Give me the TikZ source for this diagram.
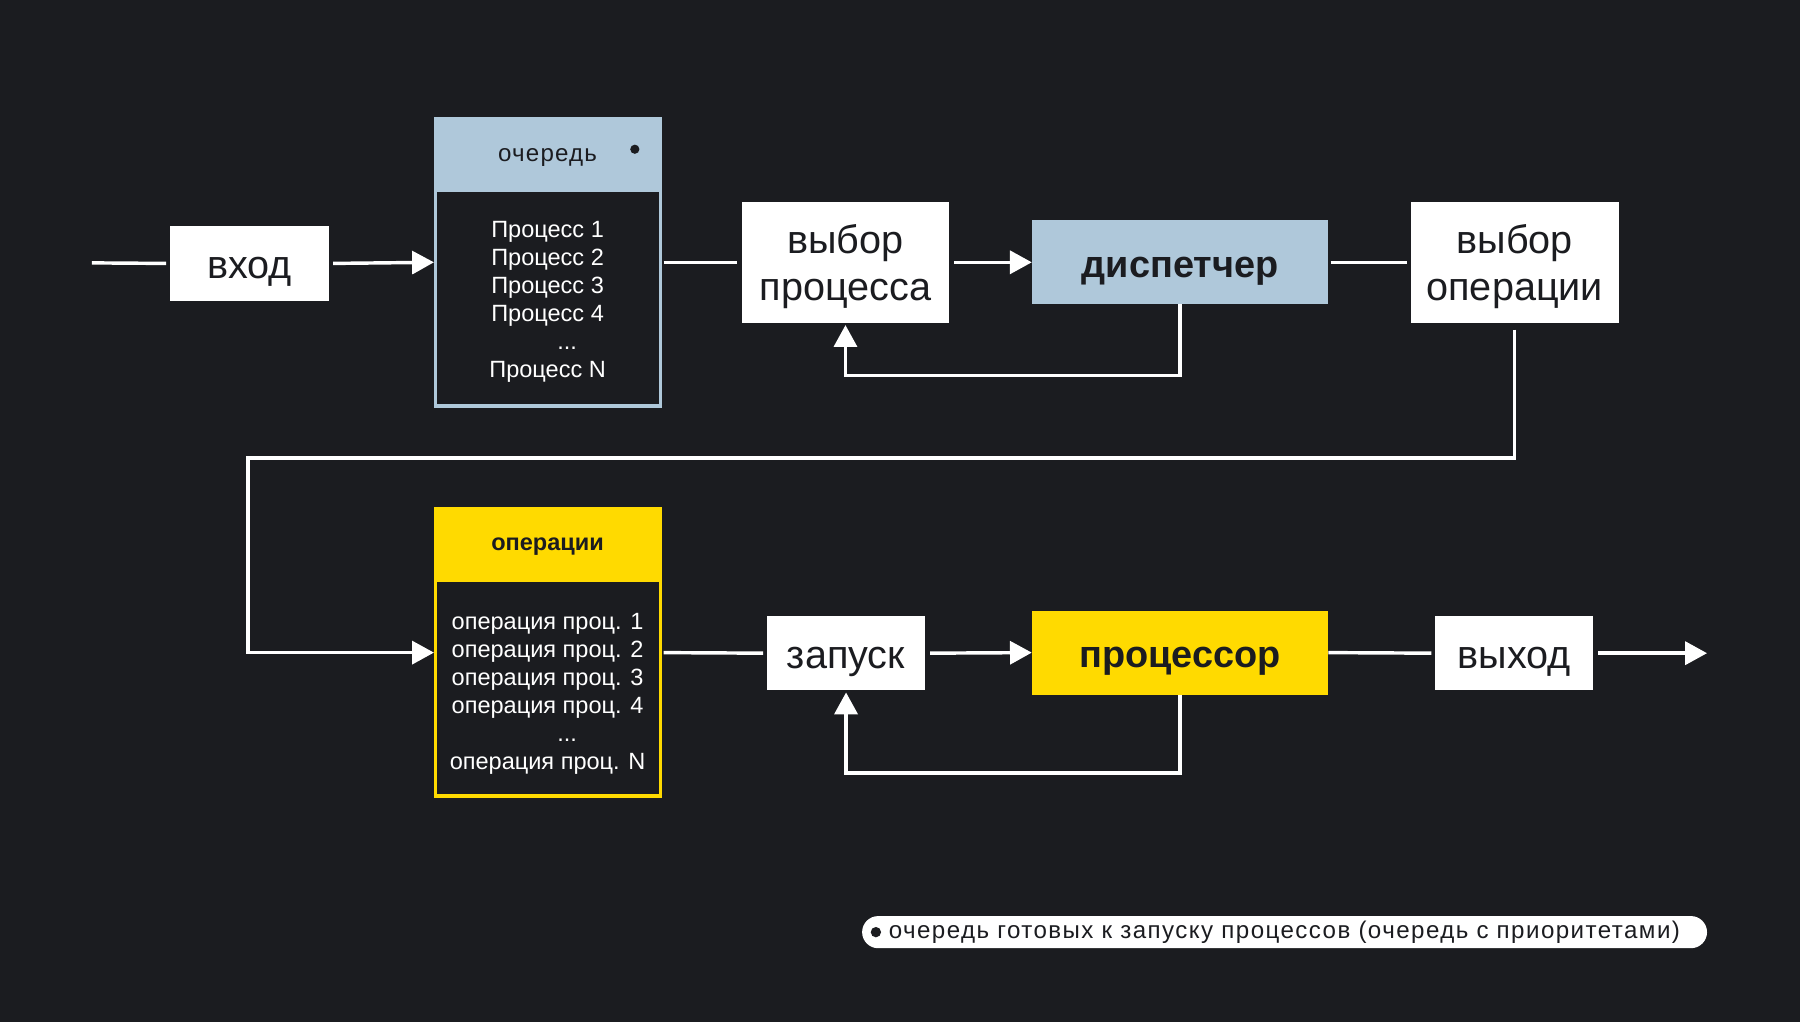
\documentclass[tikz,border=0pt]{standalone}
\usepackage{fontspec}
\setmainfont{Liberation Sans}
\usetikzlibrary{arrows.meta}
\definecolor{bg}{HTML}{1B1C20}
\definecolor{lblue}{HTML}{AFC8DA}
\definecolor{yel}{HTML}{FFDA00}
\newcommand{\bigf}{\fontsize{34.5}{41}\selectfont}
\newcommand{\bigbf}{\fontsize{33}{41}\selectfont\bfseries}
\newcommand{\smf}{\fontsize{20.5}{24.4}\selectfont}
\newcommand{\dn}[1]{\raisebox{-5pt}[\height][\depth]{\begin{tabular}{@{}c@{}}#1\end{tabular}}}
\tikzset{
  wbox/.style={fill=white, inner sep=0pt, text=bg, align=center, font=\bigf},
  bbox/.style={fill=lblue, inner sep=0pt, text=bg, align=center, font=\bigbf},
  ybox/.style={fill=yel, inner sep=0pt, text=bg, align=center, font=\bigbf},
  qframe/.style={draw=#1, line width=3pt, inner sep=0pt, minimum width=196pt, minimum height=250pt},
  bodytext/.style={text=white, align=center, font=\smf, inner sep=0pt},
  headtext/.style={text=bg, font=\fontsize{21}{24}\selectfont\addfontfeatures{LetterSpace=5}, inner sep=0pt},
  conn/.style={draw=white, line width=3pt},
  arr/.style={conn, -{Triangle[length=19pt,width=20pt]}},
}
\begin{document}
\begin{tikzpicture}[x=1pt,y=-1pt]
\path[use as bounding box, fill=bg] (0,0) rectangle (1568,890);

% top row
\coordinate (start) at (80,229);
\node[wbox, minimum width=139pt, minimum height=65pt] (in) at (217.5,229.5) {\dn{вход}};
\fill[lblue] (378,102) rectangle (577,167);
\node[qframe=lblue] (queue) at (477.5,228.5) {};
\node[headtext] (qhead) at (477,137.5) {очередь};
\node[circle, fill=bg, inner sep=0pt, minimum size=8pt] (qdot) at (553,130) {};
\node[bodytext] (qlist) at (477,263) {Процесс 1\\Процесс 2\\Процесс 3\\Процесс 4\\\hspace*{34pt}...\\Процесс N};
\node[wbox, minimum width=181pt, minimum height=105pt] (sel) at (736.5,228.5) {\dn{выбор\\процесса}};
\node[bbox, minimum width=258pt, minimum height=73pt] (disp) at (1028,228.5) {\dn{диспетчер}};
\node[wbox, minimum width=181pt, minimum height=105pt] (selop) at (1319.5,228.5) {\dn{выбор\\операции}};

% bottom row
\fill[yel] (378,442) rectangle (577,507);
\node[qframe=yel] (ops) at (477.5,568.5) {};
\node[headtext, font=\fontsize{20.5}{24}\selectfont\bfseries] (ohead) at (477,476) {операции};
\node[bodytext] (olist) at (477,604) {операция проц. 1\\операция проц. 2\\операция проц. 3\\операция проц. 4\\\hspace*{34pt}...\\операция проц. N};
\node[wbox, minimum width=138pt, minimum height=64pt] (run) at (737,569) {\dn{запуск}};
\node[ybox, minimum width=258pt, minimum height=73pt] (cpu) at (1028,568.5) {\dn{процессор}};
\node[wbox, minimum width=138pt, minimum height=64pt] (out) at (1319,569) {\dn{выход}};
\coordinate (end) at (1487,569);

% legend
\node[fill=white, rounded corners=14pt, minimum width=736pt, minimum height=28pt, inner sep=0pt] (legend) at (1119,812) {};
\node[circle, fill=bg, inner sep=0pt, minimum size=9pt] (ldot) at (763,812) {};
\node[anchor=west, text=bg, font=\fontsize{21}{24}\selectfont\addfontfeatures{LetterSpace=6}, inner sep=0pt] (ltext) at (774,812) {очередь готовых к запуску процессов (очередь с приоритетами)};

% connectors
\draw[conn, shorten >=3pt] (start) -- (in.west);
\draw[arr, shorten <=3pt] (in.east) -- (queue.west);
\draw[conn, shorten <=1pt, shorten >=4pt] (queue.east) -- (sel.west);
\draw[arr, shorten <=4pt] (sel.east) -- (disp.west);
\draw[conn, shorten <=2pt, shorten >=3pt] (disp.east) -- (selop.west);
\draw[arr] (disp.south) -- ++(0,62) -| ([yshift=-2pt]sel.south);
\coordinate (t1) at (216,399);
\draw[arr, shorten <=6pt] (selop.south) |- (t1) |- (queue.west |- ops.west);
\draw[conn, shorten <=1pt, shorten >=3pt] (ops.east) -- (run.west);
\draw[arr, shorten <=4pt] (run.east) -- (cpu.west);
\draw[conn, shorten >=3pt] (cpu.east) -- (out.west);
\draw[arr, shorten <=4pt] (out.east) -- (end);
\draw[arr] (cpu.south) -- ++(0,68) -| ([yshift=-2pt]run.south);
\end{tikzpicture}
\end{document}
